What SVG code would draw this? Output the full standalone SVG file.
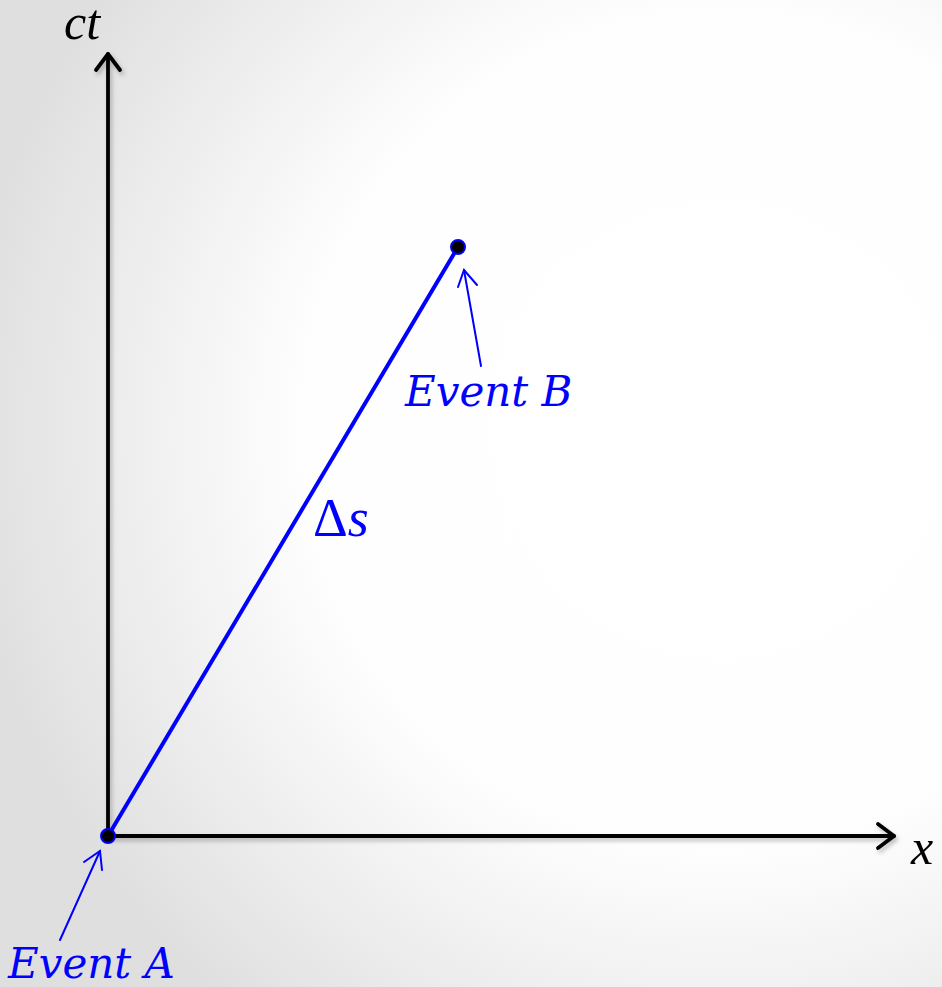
<svg xmlns="http://www.w3.org/2000/svg" width="942" height="987" viewBox="0 0 942 987">
<defs>
<radialGradient id="bg" cx="720" cy="430" r="760" gradientUnits="userSpaceOnUse">
<stop offset="0" stop-color="#ffffff"/>
<stop offset="0.55" stop-color="#fefefe"/>
<stop offset="1" stop-color="#dfdfdf"/>
</radialGradient>
<filter id="sh" x="-10%" y="-10%" width="120%" height="120%">
<feDropShadow dx="2" dy="3" stdDeviation="2" flood-color="#000" flood-opacity="0.25"/>
</filter>
</defs>
<style>
.axis{stroke:#000;stroke-width:3.8;fill:none;stroke-linecap:round}
.ah{stroke:#000;stroke-width:3.8;fill:none;stroke-linecap:round;stroke-linejoin:round}
.interval{stroke:#0000ff;stroke-width:4;fill:none}
.pointer{stroke:#0000ff;stroke-width:2;fill:none;stroke-linecap:round}
.dot{fill:#000;stroke:#0000ff;stroke-width:2}
.lbl{font-family:"DejaVu Serif",serif;font-style:italic;font-size:42px;fill:#0000ff}
.math{font-family:"Liberation Serif",serif;font-style:italic;font-size:50px;fill:#000}
</style>
<rect width="942" height="987" fill="url(#bg)"/>
<g id="connectors">
<g filter="url(#sh)">
<line id="ct-axis" class="axis" x1="108" y1="836" x2="108" y2="54"/>
<path class="ah" d="M96,70 L108,54 L120,70"/>
<line id="x-axis" class="axis" x1="108" y1="836" x2="894" y2="836"/>
<path class="ah" d="M878,824 L894,836 L878,848"/>
</g>
<line id="delta-s" class="interval" x1="108" y1="836" x2="458" y2="247"/>
<g id="pointer-A">
<line class="pointer" x1="60" y1="940" x2="100" y2="851"/>
<path class="pointer" d="M84,862 L100,851 L102,870"/>
</g>
<g id="pointer-B">
<line class="pointer" x1="481" y1="366" x2="464" y2="270"/>
<path class="pointer" d="M458,287 L464,270 L477,285"/>
</g>
</g>
<g id="event-A">
<circle class="dot" cx="108" cy="836" r="7"/>
<text class="lbl" x="8" y="978">Event A</text>
</g>
<g id="event-B">
<circle class="dot" cx="458" cy="247" r="7"/>
<text class="lbl" x="405" y="406">Event B</text>
</g>
<g id="label-ds">
<text x="313" y="536" font-family="Liberation Serif, serif" font-size="54" fill="#0000ff"><tspan>Δ</tspan><tspan font-style="italic">s</tspan></text>
</g>
<g id="label-ct">
<text class="math" x="64" y="39">ct</text>
</g>
<g id="label-x">
<text class="math" x="911" y="864">x</text>
</g>
</svg>
